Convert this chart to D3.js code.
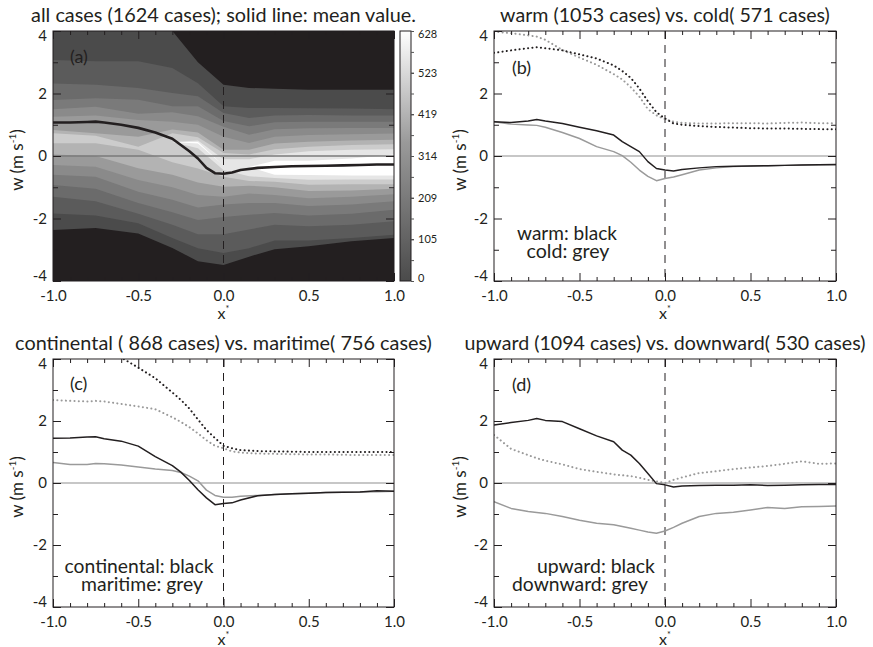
<!DOCTYPE html>
<html>
<head>
<meta charset="utf-8">
<script src="https://cdn.jsdelivr.net/npm/d3@7"></script>
<style>
  body { margin: 0; background: #fff; }
  svg text { font-family: Lato, 'Open Sans', sans-serif; fill: #231f20; }
</style>
</head>
<body>
<svg id="chart" width="873" height="647"></svg>
<script>
// x* positions used by all line series
const xGrid = [-1, -0.9, -0.8, -0.75, -0.7, -0.6, -0.5, -0.4, -0.3, -0.25, -0.2, -0.15, -0.1, -0.05,
               0, 0.05, 0.1, 0.2, 0.3, 0.4, 0.5, 0.6, 0.7, 0.8, 0.9, 1];

// (a) mean w of all cases
const meanAll = [1.07, 1.07, 1.09, 1.1, 1.07, 1.0, 0.9, 0.75, 0.55, 0.35, 0.15, -0.08, -0.38, -0.55,
                 -0.57, -0.53, -0.45, -0.38, -0.35, -0.33, -0.32, -0.31, -0.3, -0.29, -0.27, -0.27];

// (a) filled contours of case counts: band edges (w) at each x column, one row per level
const bandX = [-1, -0.75, -0.5, -0.3, -0.15, 0, 0.15, 0.3, 0.5, 0.75, 1];
const bandLevels = [0, 70, 140, 209, 279, 349, 419, 488, 558, 628];
const bandUpper = [
  [4.2, 4.2, 4.2, 4.0, 3.0, 2.28, 2.18, 2.15, 2.12, 2.12, 2.12],
  [3.07, 3.03, 3.03, 2.82, 2.33, 1.59, 1.54, 1.54, 1.53, 1.52, 1.5],
  [2.32, 2.28, 2.18, 2.02, 1.91, 1.38, 1.22, 1.3, 1.31, 1.3, 1.3],
  [1.79, 1.85, 1.8, 1.59, 1.59, 1.12, 0.95, 1.08, 1.1, 1.1, 1.1],
  [1.5, 1.58, 1.35, 1.4, 1.27, 0.94, 0.68, 0.86, 0.89, 0.9, 0.9],
  [1.26, 1.3, 1.15, 1.1, 1.0, 0.62, 0.42, 0.62, 0.67, 0.7, 0.72],
  [0.83, 0.73, 0.62, 0.85, 0.75, 0.2, 0.2, 0.4, 0.46, 0.5, 0.52],
  [0.73, 0.65, 0.3, 0.73, 0.6, 0.1, 0.05, 0.22, 0.3, 0.35, 0.38],
  [0.55, 0.5, 0.25, 0.45, 0.5, -0.1, -0.1, 0.05, 0.15, 0.2, 0.22],
  [0.55, 0.5, 0.25, 0.45, 0.45, -0.3, -0.35, -0.15, -0.15, -0.08, 0.05]
];
const bandLower = [
  [-2.37, -2.3, -2.48, -2.94, -3.37, -3.49, -3.22, -2.98, -2.89, -2.73, -2.62],
  [-1.84, -1.9, -2.15, -2.62, -2.95, -3.1, -2.95, -2.7, -2.7, -2.62, -2.52],
  [-1.3, -1.45, -1.85, -2.2, -2.5, -2.5, -2.35, -2.2, -2.25, -2.2, -2.09],
  [-0.93, -1.05, -1.5, -1.8, -2.05, -1.95, -1.88, -1.82, -1.9, -1.85, -1.72],
  [-0.6, -0.66, -1.14, -1.4, -1.65, -1.55, -1.5, -1.5, -1.6, -1.55, -1.45],
  [-0.29, -0.34, -0.77, -1.0, -1.25, -1.3, -1.2, -1.25, -1.35, -1.3, -1.22],
  [0.05, 0.0, -0.39, -0.6, -0.85, -0.98, -0.95, -1.0, -1.12, -1.1, -1.05],
  [0.41, 0.41, 0.2, -0.2, -0.4, -0.66, -0.8, -0.82, -0.92, -0.9, -0.9],
  [0.55, 0.5, 0.25, 0.45, 0.25, -0.45, -0.65, -0.7, -0.76, -0.75, -0.75],
  [0.55, 0.5, 0.25, 0.45, 0.4, -0.3, -0.35, -0.6, -0.61, -0.62, -0.62]
];
const colorbarTicks = [0, 105, 209, 314, 419, 523, 628];

// (b) warm vs cold
const warmMean = [1.1, 1.07, 1.12, 1.17, 1.12, 1.04, 0.92, 0.81, 0.67, 0.46, 0.3, 0.14, -0.18, -0.4,
                  -0.45, -0.48, -0.43, -0.38, -0.34, -0.33, -0.32, -0.31, -0.3, -0.29, -0.28, -0.27];
const coldMean = [1.1, 1.02, 0.99, 0.98, 0.92, 0.75, 0.56, 0.3, 0.14, 0.01, -0.2, -0.45, -0.65, -0.79,
                  -0.72, -0.67, -0.6, -0.45, -0.38, -0.34, -0.32, -0.31, -0.3, -0.29, -0.28, -0.28];
const warmSpread = [3.3, 3.38, 3.45, 3.48, 3.45, 3.38, 3.25, 3.12, 2.9, 2.72, 2.5, 2.16, 1.75, 1.4,
                    1.2, 1.04, 1.0, 0.96, 0.93, 0.91, 0.89, 0.88, 0.88, 0.87, 0.86, 0.86];
const coldSpread = [3.98, 3.93, 3.86, 3.82, 3.72, 3.39, 3.15, 2.92, 2.62, 2.45, 2.2, 1.9, 1.5, 1.3,
                    1.18, 1.1, 1.06, 1.04, 1.04, 1.05, 1.05, 1.04, 1.06, 1.07, 1.05, 1.05];

// (c) continental vs maritime
const contMean = [1.44, 1.45, 1.48, 1.49, 1.43, 1.35, 1.19, 0.85, 0.56, 0.35, 0.08, -0.22, -0.48, -0.7,
                  -0.66, -0.64, -0.55, -0.41, -0.37, -0.35, -0.33, -0.31, -0.3, -0.29, -0.25, -0.27];
const mariMean = [0.66, 0.6, 0.6, 0.63, 0.62, 0.58, 0.52, 0.45, 0.4, 0.34, 0.22, 0.07, -0.23, -0.4,
                  -0.46, -0.46, -0.43, -0.4, -0.37, -0.35, -0.33, -0.31, -0.3, -0.29, -0.28, -0.27];
const contSpread = [5.0, 4.75, 4.5, 4.4, 4.3, 4.05, 3.72, 3.38, 2.92, 2.68, 2.4, 2.05, 1.71, 1.45,
                    1.2, 1.12, 1.06, 1.03, 1.02, 1.01, 1.0, 1.0, 1.0, 1.0, 1.0, 1.0];
const mariSpread = [2.68, 2.65, 2.63, 2.65, 2.63, 2.55, 2.47, 2.38, 2.12, 1.97, 1.8, 1.6, 1.38, 1.2,
                    1.12, 1.02, 0.98, 0.95, 0.94, 0.93, 0.92, 0.92, 0.91, 0.9, 0.9, 0.9];

// (d) upward vs downward
const upMean = [1.87, 1.95, 2.02, 2.08, 2.02, 1.98, 1.75, 1.52, 1.33, 1.06, 0.9, 0.63, 0.31, -0.02,
                -0.06, -0.13, -0.1, -0.08, -0.07, -0.07, -0.06, -0.08, -0.07, -0.06, -0.05, -0.05];
const downMean = [-0.6, -0.82, -0.92, -0.95, -0.98, -1.08, -1.2, -1.3, -1.35, -1.4, -1.46, -1.52, -1.58, -1.62,
                  -1.55, -1.43, -1.3, -1.08, -0.98, -0.94, -0.87, -0.79, -0.82, -0.77, -0.76, -0.74];
const downSpread = [1.55, 1.1, 0.9, 0.8, 0.72, 0.6, 0.45, 0.36, 0.28, 0.25, 0.22, 0.17, 0.1, 0.05,
                    0.0, 0.1, 0.18, 0.32, 0.38, 0.45, 0.5, 0.55, 0.62, 0.7, 0.62, 0.63];

const xMajor = [-1, -0.5, 0, 0.5, 1];
const xMinor = d3.range(-10, 11).map(i => i / 10).filter(v => !xMajor.includes(Math.round(v * 10) / 10));
const yMajor = [-4, -2, 0, 2, 4];
const yMinor = [-3, -1, 1, 3];

const BLACK = '#231f20';
const GREY = '#9a9a9a';

const svg = d3.select('#chart');
const defs = svg.append('defs');

// shrink / grow a text so that it spans the given width
function fitWidth(sel, target) {
    const w = sel.node().getComputedTextLength();
    const fs = parseFloat(sel.style('font-size'));
    if (w > 0) sel.style('font-size', (fs * target / w).toFixed(2) + 'px');
}

// end labels of a vertical axis sit a little inside the frame
function nudgeEnds(axisG, low, high, shift) {
    axisG.selectAll('.tick').filter(d => d === low).select('text').attr('transform', `translate(0,${-shift})`);
    axisG.selectAll('.tick').filter(d => d === high).select('text').attr('transform', `translate(0,${shift})`);
}

function makePanel(id, box) {
    const g = svg.append('g').attr('transform', `translate(${box.left},${box.top})`);
    const x = d3.scaleLinear().domain([-1, 1]).range([0, box.width]);
    const y = d3.scaleLinear().domain([-4, 4]).range([box.height, 0]);
    defs.append('clipPath').attr('id', 'clip-' + id)
        .append('rect').attr('width', box.width).attr('height', box.height);
    const plot = g.append('g').attr('clip-path', `url(#clip-${id})`);
    return { g, plot, x, y, box };
}

function drawAxes(p, yTitleX) {
    const { g, x, y, box } = p;
    const fmtX = d => d.toFixed(1);

    // labelled axes (bottom / left) with inward ticks
    const bottom = g.append('g').attr('transform', `translate(0,${box.height})`)
        .call(d3.axisBottom(x).tickValues(xMajor).tickSize(-8).tickPadding(9).tickFormat(fmtX));
    const left = g.append('g')
        .call(d3.axisLeft(y).tickValues(yMajor).tickSize(-8).tickPadding(6).tickFormat(d => String(d)));
    [bottom, left].forEach(a => {
        a.select('.domain').remove();
        a.selectAll('text').style('font-size', '15px').attr('fill', BLACK)
            .style('font-family', "Lato, 'Open Sans', sans-serif");
    });
    nudgeEnds(left, -4, 4, 5);

    // remaining ticks on all four sides
    const tickSets = [
        g.append('g').attr('transform', `translate(0,${box.height})`).call(d3.axisBottom(x).tickValues(xMinor).tickSize(-4).tickFormat('')),
        g.append('g').call(d3.axisTop(x).tickValues(xMajor).tickSize(-8).tickFormat('')),
        g.append('g').call(d3.axisTop(x).tickValues(xMinor).tickSize(-4).tickFormat('')),
        g.append('g').call(d3.axisLeft(y).tickValues(yMinor).tickSize(-5).tickFormat('')),
        g.append('g').attr('transform', `translate(${box.width},0)`).call(d3.axisRight(y).tickValues(yMajor).tickSize(-8).tickFormat('')),
        g.append('g').attr('transform', `translate(${box.width},0)`).call(d3.axisRight(y).tickValues(yMinor).tickSize(-5).tickFormat(''))
    ];
    tickSets.forEach(a => a.select('.domain').remove());
    g.selectAll('.tick line').attr('stroke', BLACK);

    g.append('rect').attr('width', box.width).attr('height', box.height)
        .attr('fill', 'none').attr('stroke', BLACK).attr('stroke-width', 1);

    // axis titles
    const xt = g.append('text').attr('x', box.width / 2).attr('y', box.height + 38)
        .attr('text-anchor', 'middle').style('font-size', '16px');
    xt.append('tspan').text('x');
    xt.append('tspan').attr('dy', -7).style('font-size', '9px').text('*');

    const yt = g.append('text')
        .attr('transform', `translate(${yTitleX - box.left},${box.height / 2 + 4}) rotate(-90)`)
        .attr('text-anchor', 'middle').style('font-size', '17px');
    yt.append('tspan').text('w (m s');
    yt.append('tspan').attr('dy', -7).style('font-size', '10px').text('-1');
    yt.append('tspan').attr('dy', 7).text(')');
}

function drawGuides(p, zeroColor) {
    const { plot, x, y, box } = p;
    plot.append('line').attr('x1', 0).attr('x2', box.width)
        .attr('y1', y(0)).attr('y2', y(0))
        .attr('stroke', zeroColor).attr('stroke-width', 1.3);
    plot.append('line').attr('x1', x(0)).attr('x2', x(0))
        .attr('y1', 0).attr('y2', box.height)
        .attr('stroke', BLACK).attr('stroke-width', 1).attr('stroke-dasharray', '8,6');
}

function drawLine(p, values, color, dotted, width) {
    const line = d3.line().x((d, i) => p.x(xGrid[i])).y(d => p.y(d));
    const path = p.plot.append('path').datum(values)
        .attr('d', line).attr('fill', 'none')
        .attr('stroke', color).attr('stroke-width', width || 1.5)
        .attr('stroke-linejoin', 'round');
    if (dotted) {
        path.attr('stroke-dasharray', '0.1,4.2').attr('stroke-linecap', 'round').attr('stroke-width', 2);
    }
}

function addTitle(p, text, width) {
    const t = p.g.append('text').attr('x', p.box.width / 2).attr('y', -9)
        .attr('text-anchor', 'middle').style('font-size', '18px').text(text);
    fitWidth(t, width);
}

function addTag(p, text, tx, ty, color) {
    p.g.append('text').attr('x', tx - p.box.left).attr('y', ty - p.box.top)
        .style('font-size', '18px').attr('fill', color || BLACK).text(text);
}

function addLegend(p, lines) {
    lines.forEach(l => {
        const t = p.g.append('text').attr('x', l.cx - p.box.left).attr('y', l.y - p.box.top)
            .attr('text-anchor', 'middle').style('font-size', '18px')
            .attr('fill', l.color).text(l.text);
        fitWidth(t, l.width);
    });
}

// ---------- panel (a): filled contours ----------
const pa = makePanel('a', { left: 53, top: 31, width: 341, height: 250 });
const countColor = d3.scaleLinear().domain([0, 349, 628]).range(['#4b4b4b', '#9a9a9a', '#ffffff']);

pa.plot.append('rect').attr('width', pa.box.width).attr('height', pa.box.height).attr('fill', '#231f20');
const bandArea = d3.area()
    .x((d, i) => pa.x(bandX[i]))
    .y0(d => pa.y(d[0]))
    .y1(d => pa.y(d[1]));
bandLevels.forEach((lev, k) => {
    const pts = bandX.map((_, i) => [bandLower[k][i], bandUpper[k][i]]);
    pa.plot.append('path').datum(pts)
        .attr('d', bandArea)
        .attr('fill', countColor(lev));
});
drawGuides(pa, '#7a7a7a');
drawLine(pa, meanAll, BLACK, false, 2.6);
drawAxes(pa, 23);
addTitle(pa, 'all cases (1624 cases); solid line: mean value.', 385);
addTag(pa, '(a)', 70, 63, '#ffffff');

// colorbar
const cbBox = { left: 400, top: 31, width: 11, height: 250 };
const cbScale = d3.scaleLinear().domain([0, 628]).range([cbBox.height, 0]);
const grad = defs.append('linearGradient').attr('id', 'cbGrad')
    .attr('x1', 0).attr('y1', 1).attr('x2', 0).attr('y2', 0);
countColor.domain().forEach(v => {
    grad.append('stop').attr('offset', v / 628).attr('stop-color', countColor(v));
});
const cb = svg.append('g').attr('transform', `translate(${cbBox.left},${cbBox.top})`);
cb.append('rect').attr('width', cbBox.width).attr('height', cbBox.height)
    .attr('fill', 'url(#cbGrad)').attr('stroke', BLACK).attr('stroke-width', 1);
const cbAxis = cb.append('g').attr('transform', `translate(${cbBox.width},0)`)
    .call(d3.axisRight(cbScale).tickValues(colorbarTicks).tickSize(3).tickPadding(4));
cbAxis.select('.domain').remove();
cbAxis.selectAll('text').style('font-size', '11px').attr('fill', BLACK);
cbAxis.selectAll('line').attr('stroke', BLACK);
nudgeEnds(cbAxis, 0, 628, 3);
const cbMid = colorbarTicks.slice(1).map((v, i) => (v + colorbarTicks[i]) / 2);
cb.append('g').attr('transform', `translate(${cbBox.width},0)`)
    .call(d3.axisLeft(cbScale).tickValues(colorbarTicks.concat(cbMid)).tickSize(-3).tickFormat(''))
    .call(a => a.select('.domain').remove())
    .selectAll('line').attr('stroke', '#555');

// ---------- panel (b) ----------
const pb = makePanel('b', { left: 494, top: 31, width: 342, height: 250 });
drawGuides(pb, '#b5b5b5');
drawLine(pb, coldSpread, GREY, true);
drawLine(pb, warmSpread, BLACK, true);
drawLine(pb, coldMean, GREY, false);
drawLine(pb, warmMean, BLACK, false);
drawAxes(pb, 466);
addTitle(pb, 'warm (1053 cases) vs. cold( 571 cases)', 330);
addTag(pb, '(b)', 512, 74);
addLegend(pb, [
    { text: 'warm: black', cx: 567, y: 240, width: 100, color: BLACK },
    { text: 'cold: grey', cx: 568, y: 258, width: 83, color: GREY }
]);

// ---------- panel (c) ----------
const pc = makePanel('c', { left: 53, top: 359, width: 341, height: 248 });
drawGuides(pc, '#b5b5b5');
drawLine(pc, mariSpread, GREY, true);
drawLine(pc, contSpread, BLACK, true);
drawLine(pc, mariMean, GREY, false);
drawLine(pc, contMean, BLACK, false);
drawAxes(pc, 23);
addTitle(pc, 'continental ( 868 cases) vs. maritime( 756 cases)', 417);
addTag(pc, '(c)', 70, 390);
addLegend(pc, [
    { text: 'continental: black', cx: 139, y: 573, width: 149, color: BLACK },
    { text: 'maritime: grey', cx: 142, y: 591, width: 122, color: GREY }
]);

// ---------- panel (d) ----------
const pd = makePanel('d', { left: 494, top: 359, width: 342, height: 248 });
drawGuides(pd, '#b5b5b5');
drawLine(pd, downSpread, GREY, true);
drawLine(pd, downMean, GREY, false);
drawLine(pd, upMean, BLACK, false);
drawAxes(pd, 466);
addTitle(pd, 'upward (1094 cases) vs. downward( 530 cases)', 401);
addTag(pd, '(d)', 512, 391);
addLegend(pd, [
    { text: 'upward: black', cx: 596, y: 573, width: 118, color: BLACK },
    { text: 'downward: grey', cx: 580, y: 591, width: 136, color: GREY }
]);
</script>
</body>
</html>
